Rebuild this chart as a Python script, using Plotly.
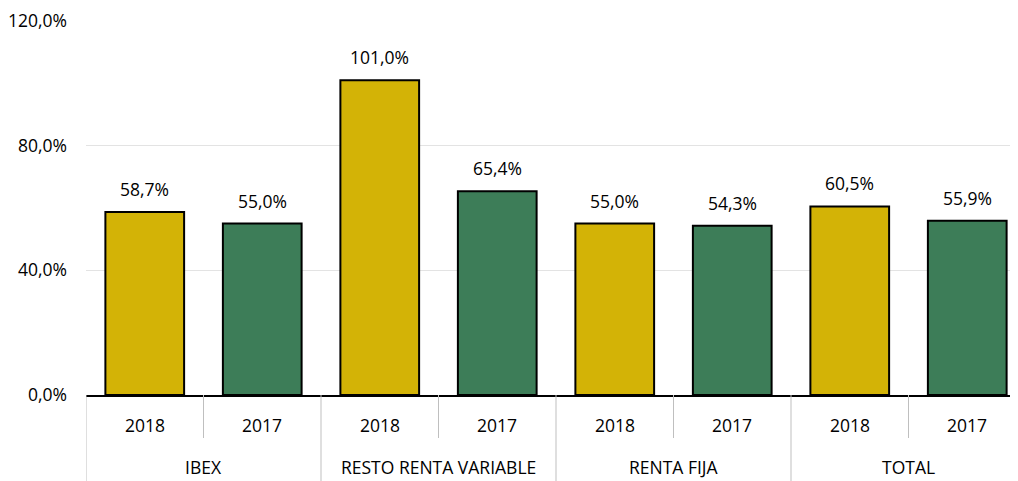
import plotly.graph_objects as go

groups = ["IBEX", "RESTO RENTA VARIABLE", "RENTA FIJA", "TOTAL"]
years = ["2018", "2017"]
values = [58.7, 55.0, 101.0, 65.4, 55.0, 54.3, 60.5, 55.9]
yticks = [0, 40, 80, 120]
ytick_labels = ["0,0%", "40,0%", "80,0%", "120,0%"]

YELLOW = "#D3B306"
GREEN = "#3D7D58"
FONT = "Open Sans"
FS = 17.5

n = len(values)
xs = list(range(n))
year_of = [years[i % len(years)] for i in xs]
colors = [YELLOW if y == "2018" else GREEN for y in year_of]

fig = go.Figure(go.Bar(
    x=xs, y=values,
    marker=dict(color=colors, line=dict(color="black", width=2)),
    width=0.67,
    hoverinfo="y",
))

# value labels
for x, v in zip(xs, values):
    fig.add_annotation(x=x, y=v, text=f"{v:.1f}%".replace(".", ","),
                       showarrow=False, yanchor="bottom", yshift=9,
                       font=dict(family=FONT, size=FS, color="black"))

TOP, BOT = 12, 86
W, HT = 1018, 473
H = HT - TOP - BOT  # plot height in px
def py(px):
    return -px / H

# year labels
for x, y in zip(xs, year_of):
    fig.add_annotation(x=x, y=py(30), yref="paper", text=y, showarrow=False,
                       yanchor="middle", font=dict(family=FONT, size=FS, color="black"))
# group labels and dividers
per = len(years)
for gi, g in enumerate(groups):
    center = gi * per + (per - 1) / 2
    fig.add_annotation(x=center, y=py(72), yref="paper", text=g, showarrow=False,
                       yanchor="middle", font=dict(family=FONT, size=FS, color="black"))
    left = gi * per - 0.5
    fig.add_shape(type="line", x0=left, x1=left, y0=0, y1=py(90), yref="paper",
                  line=dict(color="#bfbfbf", width=1))
    for k in range(1, per):
        xb = gi * per + k - 0.5
        fig.add_shape(type="line", x0=xb, x1=xb, y0=0, y1=py(43), yref="paper",
                      line=dict(color="#bfbfbf", width=1))

fig.update_layout(
    width=W, height=HT,
    margin=dict(l=78, r=0, t=TOP, b=BOT, autoexpand=False),
    plot_bgcolor="white", paper_bgcolor="white",
    showlegend=False,
    font=dict(family=FONT, size=FS, color="black"),
)
fig.update_yaxes(
    range=[0, 120.3], tickvals=yticks, ticktext=ytick_labels,
    showgrid=True, gridcolor="#e3e3e3", gridwidth=1,
    zeroline=False, showline=False, ticks="", ticklabelstandoff=18,
    tickfont=dict(family=FONT, size=FS),
)
fig.update_xaxes(
    range=[-0.5, n - 0.5], showticklabels=False, showgrid=False, zeroline=False,
    showline=True, linecolor="black", linewidth=1.5, ticks="",
)

fig.write_html("out.html")
